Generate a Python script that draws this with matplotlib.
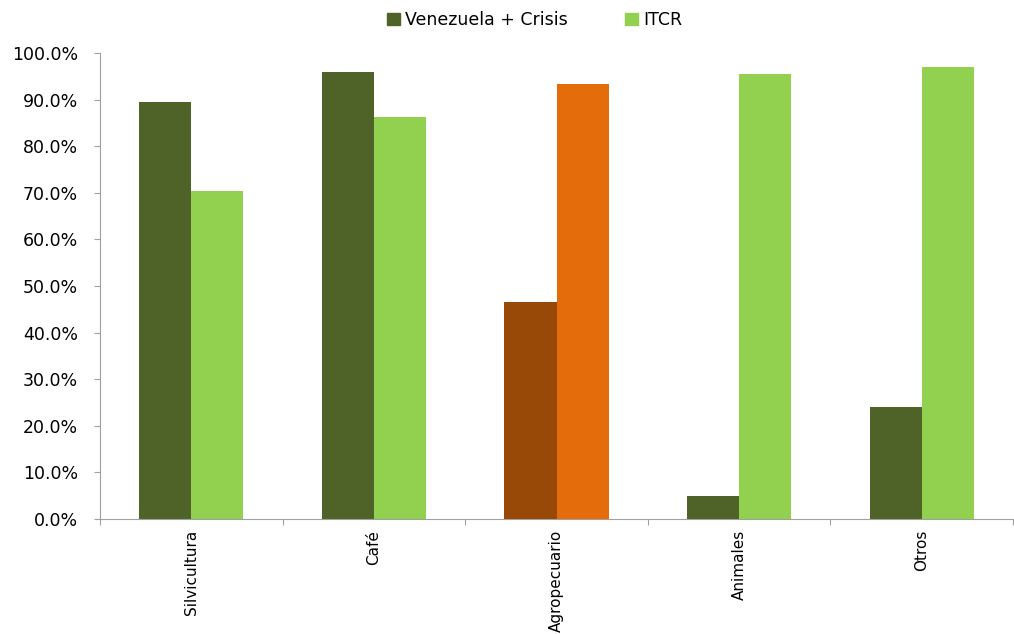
import numpy as np
from matplotlib import pyplot as plt
from matplotlib.ticker import PercentFormatter, FixedLocator

categories = ["Silvicultura", "Café", "Agropecuario", "Animales", "Otros"]
venezuela_crisis = [0.895, 0.959, 0.466, 0.050, 0.241]
itcr = [0.704, 0.862, 0.934, 0.956, 0.969]

dark_colors = ["#4F6228", "#4F6228", "#984807", "#4F6228", "#4F6228"]
light_colors = ["#92D050", "#92D050", "#E46C0A", "#92D050", "#92D050"]

fig = plt.figure(figsize=(10.14, 6.34), dpi=100)
ax = fig.add_axes([100/1014, 1-519/634, 913/1014, (519-53)/634])

x = np.arange(len(categories))
w = 0.285
ax.bar(x - w/2, venezuela_crisis, w, color=dark_colors, label="Venezuela + Crisis")
ax.bar(x + w/2, itcr, w, color=light_colors, label="ITCR")

ax.set_xlim(-0.5, len(categories) - 0.5)
ax.set_ylim(0, 1.0)
ax.set_yticks(np.arange(0, 1.01, 0.1))
ax.yaxis.set_major_formatter(PercentFormatter(1.0, decimals=1))

# ticks at the boundaries, labels at the centres
ax.xaxis.set_major_locator(FixedLocator(np.arange(-0.5, len(categories), 1.0)))
ax.xaxis.set_major_formatter(plt.NullFormatter())
ax.xaxis.set_minor_locator(FixedLocator(x))
ax.set_xticklabels(categories, minor=True, rotation=90, fontsize=11)
ax.tick_params(axis="x", which="minor", length=0, pad=8)
ax.tick_params(axis="x", which="major", length=4, color="#A0A0A0")
ax.tick_params(axis="y", length=4, color="#A0A0A0", labelsize=12.5, pad=12)

for s in ["top", "right"]:
    ax.spines[s].set_visible(False)
for s in ["left", "bottom"]:
    ax.spines[s].set_color("#A0A0A0")

handles, labels = ax.get_legend_handles_labels()
leg = fig.legend([plt.Rectangle((0, 0), 1, 1, color="#4F6228"),
                  plt.Rectangle((0, 0), 1, 1, color="#92D050")],
                 labels, loc="upper center", bbox_to_anchor=(0.527, 1.007),
                 ncol=2, frameon=False, fontsize=12.5, handlelength=0.75,
                 handleheight=0.75, handletextpad=0.3, columnspacing=3.3)

fig.savefig("out.png", dpi=100)
